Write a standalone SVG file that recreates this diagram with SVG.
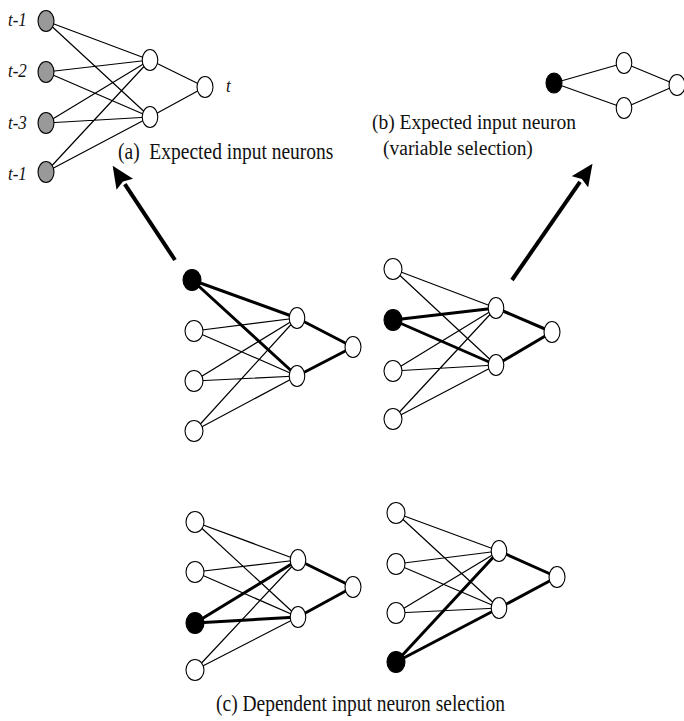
<svg xmlns="http://www.w3.org/2000/svg" width="684" height="721" viewBox="0 0 684 721">
<style>
.n{fill:#fff;stroke:#000;stroke-width:1.1}
.g{fill:#999;stroke:#000;stroke-width:1.1}
.b{fill:#000;stroke:#000;stroke-width:1.1}
.t{stroke:#000;stroke-width:1.2;fill:none}
.k{stroke:#000;stroke-width:3;fill:none}
.a{stroke:#000;stroke-width:4;fill:none;marker-end:url(#ah)}
text{font-family:"Liberation Serif","Times New Roman",serif;font-size:19.5px;fill:#111}
.it{font-style:italic;font-size:17px}
</style>
<defs>
<marker id="ah" markerUnits="userSpaceOnUse" markerWidth="22" markerHeight="20" viewBox="0 -9 20 18" refX="0" refY="0" orient="auto">
<path d="M0,-9 L20,0 L0,9 L3,0 z" fill="#000"/>
</marker>
</defs>
<g id="connectors">
<path class="t" d="M46,21 L150,60 M46,21 L150,117 M46,72 L150,60 M46,72 L150,117 M46,123 L150,60 M46,123 L150,117 M46,172 L150,60 M46,172 L150,117 M150,60 L205,87 M150,117 L205,87"/>
<path class="t" d="M554,83 L624,63 M554,83 L624,108 M624,63 L677,85 M624,108 L677,85"/>
<path class="t" d="M194,331 L297,318 M194,331 L297,376 M194,381 L297,318 M194,381 L297,376 M194,431 L297,318 M194,431 L297,376"/>
<path class="k" d="M192,280 L297,318 M192,280 L297,376 M297,318 L353,347 M297,376 L353,347"/>
<path class="t" d="M393,269 L496,308 M393,269 L496,365 M393,371 L496,308 M393,371 L496,365 M393,419 L496,308 M393,419 L496,365"/>
<path class="k" d="M393,320 L496,308 M393,320 L496,365 M496,308 L552,332 M496,365 L552,332"/>
<path class="t" d="M195,522 L298,560 M195,522 L298,617 M195,572 L298,560 M195,572 L298,617 M195,670 L298,560 M195,670 L298,617"/>
<path class="k" d="M195,623 L298,560 M195,623 L298,617 M298,560 L353,587 M298,617 L353,587"/>
<path class="t" d="M396,513 L499,551 M396,513 L499,608 M396,564 L499,551 M396,564 L499,608 M396,613 L499,551 M396,613 L499,608"/>
<path class="k" d="M396,662 L499,551 M396,662 L499,608 M499,551 L557,577 M499,608 L557,577"/>
<line class="a" x1="175" y1="260" x2="124.8" y2="184.2"/>
<line class="a" x1="512" y1="280" x2="580" y2="181.8"/>
</g>
<g id="net-a">
<ellipse class="g" cx="46" cy="21" rx="8" ry="10.5"/>
<ellipse class="g" cx="46" cy="72" rx="8" ry="10.5"/>
<ellipse class="g" cx="46" cy="123" rx="8" ry="10.5"/>
<ellipse class="g" cx="46" cy="172" rx="8" ry="10.5"/>
<ellipse class="n" cx="150" cy="60" rx="7.8" ry="10.5"/>
<ellipse class="n" cx="150" cy="117" rx="7.8" ry="10.5"/>
<ellipse class="n" cx="205" cy="87" rx="8" ry="10.5"/>
<text class="it" transform="translate(8,26) scale(1,1.15)">t-1</text>
<text class="it" transform="translate(8,77) scale(1,1.15)">t-2</text>
<text class="it" transform="translate(8,129) scale(1,1.15)">t-3</text>
<text class="it" transform="translate(8,180) scale(1,1.15)">t-1</text>
<text class="it" transform="translate(226,92) scale(1,1.15)">t</text>
<text transform="translate(118,159) scale(1,1.15)" xml:space="preserve">(a)  Expected input neurons</text>
</g>
<g id="net-b">
<ellipse class="b" cx="554" cy="83" rx="8" ry="10"/>
<ellipse class="n" cx="624" cy="63" rx="7.8" ry="10.5"/>
<ellipse class="n" cx="624" cy="108" rx="7.8" ry="10.5"/>
<ellipse class="n" cx="677" cy="85" rx="8" ry="10.5"/>
<text transform="translate(372,129) scale(1,1.08)">(b) Expected input neuron</text>
<text transform="translate(383,155) scale(1,1.08)">(variable selection)</text>
</g>
<g id="net-ml">
<ellipse class="b" cx="192" cy="280" rx="9" ry="10.5"/>
<ellipse class="n" cx="194" cy="331" rx="9" ry="10.5"/>
<ellipse class="n" cx="194" cy="381" rx="9" ry="10.5"/>
<ellipse class="n" cx="194" cy="431" rx="9" ry="10.5"/>
<ellipse class="n" cx="297" cy="318" rx="7.8" ry="10.5"/>
<ellipse class="n" cx="297" cy="376" rx="7.8" ry="10.5"/>
<ellipse class="n" cx="353" cy="347" rx="8" ry="10.5"/>
</g>
<g id="net-mr">
<ellipse class="n" cx="393" cy="269" rx="9" ry="10.5"/>
<ellipse class="b" cx="393" cy="320" rx="9" ry="10.5"/>
<ellipse class="n" cx="393" cy="371" rx="9" ry="10.5"/>
<ellipse class="n" cx="393" cy="419" rx="9" ry="10.5"/>
<ellipse class="n" cx="496" cy="308" rx="7.8" ry="10.5"/>
<ellipse class="n" cx="496" cy="365" rx="7.8" ry="10.5"/>
<ellipse class="n" cx="552" cy="332" rx="8" ry="10.5"/>
</g>
<g id="net-bl">
<ellipse class="n" cx="195" cy="522" rx="9" ry="10.5"/>
<ellipse class="n" cx="195" cy="572" rx="9" ry="10.5"/>
<ellipse class="b" cx="195" cy="623" rx="9" ry="10.5"/>
<ellipse class="n" cx="195" cy="670" rx="9" ry="10.5"/>
<ellipse class="n" cx="298" cy="560" rx="7.8" ry="10.5"/>
<ellipse class="n" cx="298" cy="617" rx="7.8" ry="10.5"/>
<ellipse class="n" cx="353" cy="587" rx="8" ry="10.5"/>
</g>
<g id="net-br">
<ellipse class="n" cx="396" cy="513" rx="9" ry="10.5"/>
<ellipse class="n" cx="396" cy="564" rx="9" ry="10.5"/>
<ellipse class="n" cx="396" cy="613" rx="9" ry="10.5"/>
<ellipse class="b" cx="396" cy="662" rx="9" ry="10.5"/>
<ellipse class="n" cx="499" cy="551" rx="7.8" ry="10.5"/>
<ellipse class="n" cx="499" cy="608" rx="7.8" ry="10.5"/>
<ellipse class="n" cx="557" cy="577" rx="8" ry="10.5"/>
</g>
<g id="caption">
<text transform="translate(216,711) scale(1,1.15)">(c) Dependent input neuron selection</text>
</g>
</svg>
